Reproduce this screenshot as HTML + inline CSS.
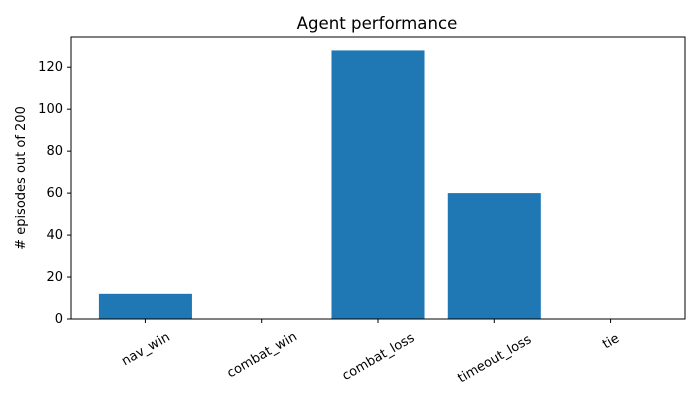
<!DOCTYPE html>
<html><head><meta charset="utf-8"><style>
body{margin:0;background:#fff;}
text{font-family:"DejaVu Sans","Liberation Sans",sans-serif;}
</style></head><body>
<svg id="chart" width="700" height="400" xmlns="http://www.w3.org/2000/svg">
<rect width="700" height="400" fill="#fff"/>
<text x="377" y="29" font-size="16.6" text-anchor="middle">Agent performance</text>
<text x="0" y="0" font-size="13" text-anchor="middle" transform="translate(25,178) rotate(-90)"># episodes out of 200</text>
<g id="plot"></g>
</svg>
<script>
const categories=["nav_win","combat_win","combat_loss","timeout_loss","tie"];
const values=[12,0,128,60,0];
const yTicks=[0,20,40,60,80,100,120];
const L=71,R=685,T=37,B=319;
const xMin=-0.64,xMax=4.64,yMax=134.4;
const xs=v=>L+(v-xMin)/(xMax-xMin)*(R-L);
const ys=v=>B-v/yMax*(B-T);
const g=document.getElementById('plot');
const NS="http://www.w3.org/2000/svg";
function mk(t,a){const e=document.createElementNS(NS,t);for(const k in a)e.setAttribute(k,a[k]);g.appendChild(e);return e;}
values.forEach((v,i)=>{
  const r=mk('rect',{x:xs(i-0.4),y:ys(v),width:xs(i+0.4)-xs(i-0.4),height:B-ys(v),fill:'#1f77b4'});
  
  
});
mk('rect',{x:L,y:T,width:R-L,height:B-T,fill:'none',stroke:'#000','stroke-width':1});
yTicks.forEach(t=>{
  const y=ys(t);
  mk('line',{x1:L-4,x2:L,y1:y,y2:y,stroke:'#000'});
  const tx=mk('text',{x:L-8,y:y+4,'font-size':13,'text-anchor':'end'});
  tx.textContent=t;
  
  
});
categories.forEach((c,i)=>{
  const x=xs(i);
  mk('line',{x1:x,x2:x,y1:B,y2:B+4,stroke:'#000'});
  const len=c.length*7.8;
  const cy=B+8+len*0.25+8;
  const tx=mk('text',{x:0,y:4.5,'font-size':13,'text-anchor':'middle',transform:`translate(${x},${cy}) rotate(-30)`});
  tx.textContent=c;
  
  
});
</script>
</body></html>
